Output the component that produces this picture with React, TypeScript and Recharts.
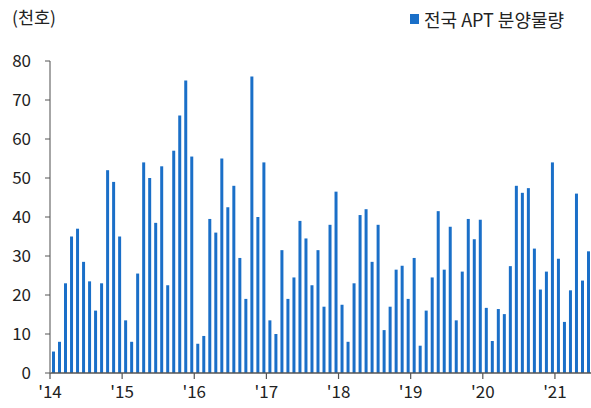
import React from "react";
import { BarChart, Bar, XAxis, YAxis } from "recharts";

// 월별 전국 APT 분양물량 (천호), 2014.01 ~ 2021.06
const YEARS = ["14", "15", "16", "17", "18", "19", "20", "21"];

const SUPPLY_2014 = [5.5, 8, 23, 35, 37, 28.5, 23.5, 16, 23, 52, 49, 35];
const SUPPLY_2015 = [13.5, 8, 25.5, 54, 50, 38.5, 53, 22.5, 57, 66, 75, 55.5];
const SUPPLY_2016 = [7.5, 9.5, 39.5, 36, 55, 42.5, 48, 29.5, 19, 76, 40, 54];
const SUPPLY_2017 = [13.5, 10, 31.5, 19, 24.5, 39, 34.5, 22.5, 31.5, 17, 38, 46.5];
const SUPPLY_2018 = [17.5, 8, 23, 40.5, 42, 28.5, 38, 11, 17, 26.5, 27.5, 19];
const SUPPLY_2019 = [29.5, 7, 16, 24.5, 41.5, 26.5, 37.5, 13.5, 26, 39.5, 34.3, 39.3];
const SUPPLY_2020 = [16.7, 8.2, 16.4, 15.1, 27.4, 48, 46.2, 47.4, 31.9, 21.4, 26, 54];
const SUPPLY_2021 = [29.3, 13.1, 21.2, 46, 23.7, 31.2];

const Y_TICKS = [0, 10, 20, 30, 40, 50, 60, 70, 80];

const SERIES_NAME = "전국 APT 분양물량";
const BAR_COLOR = "#1a6fc8";
const FONT = "'Noto Sans CJK KR', 'Noto Sans', sans-serif";

const byYear = [
  SUPPLY_2014,
  SUPPLY_2015,
  SUPPLY_2016,
  SUPPLY_2017,
  SUPPLY_2018,
  SUPPLY_2019,
  SUPPLY_2020,
  SUPPLY_2021,
];

const data = byYear.flatMap((values, y) =>
  values.map((v, m) => ({
    month: `${YEARS[y]}-${String(m + 1).padStart(2, "0")}`,
    value: v,
  }))
);

const YearTick = (props: any) => {
  const { x, y, payload } = props;
  const value: string = payload?.value ?? "";
  if (!value.endsWith("-01")) return <g />;
  const band = 541 / data.length;
  const tx = x - band / 2;
  return (
    <g>
      <line x1={tx} y1={y - 8} x2={tx} y2={y - 2} stroke="#555" strokeWidth={1.2} />
      <text
        x={tx}
        y={y + 17}
        textAnchor="middle"
        fontSize={17}
        fill="#222"
        fontFamily={FONT}
      >
        {"'" + value.slice(0, 2)}
      </text>
    </g>
  );
};

export default function App() {
  return (
    <div style={{ position: "absolute", left: 0, top: 0, width: 591, height: 408, background: "#fff" }}>
      <div
        style={{
          position: "absolute",
          left: 12,
          top: 4,
          fontFamily: FONT,
          fontSize: 17.5,
          color: "#222",
        }}
      >
        (천호)
      </div>
      <div
        style={{
          position: "absolute",
          left: 410,
          top: 6,
          display: "flex",
          alignItems: "center",
          fontFamily: FONT,
          fontSize: 18,
          color: "#222",
          whiteSpace: "nowrap",
        }}
      >
        <span
          style={{
            display: "inline-block",
            width: 9,
            height: 10,
            background: BAR_COLOR,
            marginRight: 5,
          }}
        />
        {SERIES_NAME}
      </div>
      <BarChart
        width={591}
        height={408}
        data={data}
        margin={{ top: 61, right: 0, left: 0, bottom: 0 }}
      >
        <XAxis
          dataKey="month"
          height={35}
          interval={0}
          tickLine={false}
          axisLine={{ stroke: "#555", strokeWidth: 1.5 }}
          tick={<YearTick />}
        />
        <YAxis
          width={50}
          domain={[0, 80]}
          ticks={Y_TICKS}
          interval={0}
          tickSize={5}
          tickMargin={14}
          axisLine={{ stroke: "#888", strokeWidth: 1.5 }}
          tickLine={{ stroke: "#555" }}
          tick={{ fontSize: 17, fill: "#222", fontFamily: FONT }}
        />
        <Bar dataKey="value" name={SERIES_NAME} fill={BAR_COLOR} barSize={3} isAnimationActive={false} />
      </BarChart>
    </div>
  );
}
